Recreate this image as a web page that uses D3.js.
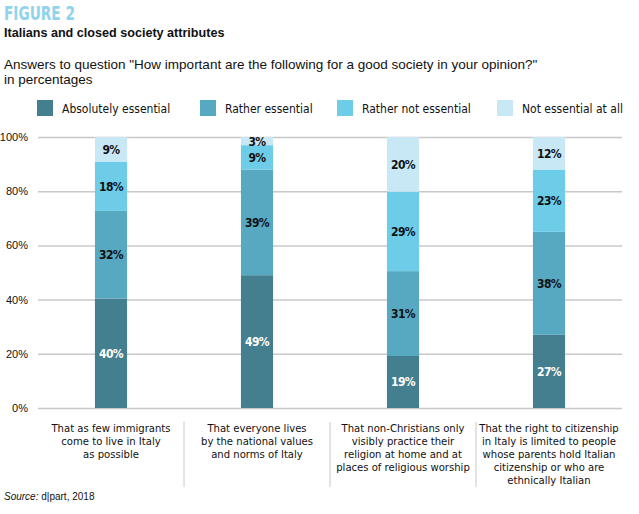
<!DOCTYPE html>
<html><head><meta charset="utf-8">
<script src="https://cdn.jsdelivr.net/npm/d3@7"></script>
<style>
body{margin:0;background:#fff;}
svg{display:block;}
</style></head>
<body>
<svg id="chart" width="639" height="514"></svg>
<script>
const categories = [
  ["That as few immigrants","come to live in Italy","as possible"],
  ["That everyone lives","by the national values","and norms of Italy"],
  ["That non-Christians only","visibly practice their","religion at home and at","places of religious worship"],
  ["That the right to citizenship","in Italy is limited to people","whose parents hold Italian","citizenship or who are","ethnically Italian"]
];
const seriesNames = ["Absolutely essential","Rather essential","Rather not essential","Not essential at all"];
const absolutelyEssential = [40, 49, 19, 27];
const ratherEssential     = [32, 39, 31, 38];
const ratherNotEssential  = [18, 9, 29, 23];
const notEssentialAtAll   = [9, 3, 20, 12];
const yTicks = [0, 0.2, 0.4, 0.6, 0.8, 1.0];
const colors = ["#447f90", "#57a8c1", "#6dcde9", "#c7e8f4"];

const narrow = "'DejaVu Sans Condensed','Liberation Sans Narrow',Arial,sans-serif";
const regular = "'Liberation Sans',Arial,sans-serif";

const svg = d3.select("#chart");

const rows = categories.map((c, i) => ({
  idx: i,
  [seriesNames[0]]: absolutelyEssential[i],
  [seriesNames[1]]: ratherEssential[i],
  [seriesNames[2]]: ratherNotEssential[i],
  [seriesNames[3]]: notEssentialAtAll[i]
}));
const stack = d3.stack().keys(seriesNames).offset(d3.stackOffsetExpand);
const layers = stack(rows);

const x = d3.scaleBand().domain(d3.range(categories.length)).range([38, 622]).paddingInner(0.78).paddingOuter(0.39);
const y = d3.scaleLinear().domain([0, 1]).range([408, 137]);
const color = d3.scaleOrdinal().domain(seriesNames).range(colors);

// Header
svg.append("text").attr("x", 4).attr("y", 20).text("FIGURE 2")
  .attr("font-family", narrow).attr("font-weight", "bold").attr("font-size", 20).attr("fill", "#8fd4ec")
  .attr("textLength", 71).attr("lengthAdjust", "spacingAndGlyphs");
svg.append("text").attr("x", 4).attr("y", 37).text("Italians and closed society attributes")
  .attr("font-family", regular).attr("font-weight", "bold").attr("font-size", 12.6).attr("fill", "#111");
svg.append("text").attr("x", 4).attr("y", 69).text("Answers to question \"How important are the following for a good society in your opinion?\"")
  .attr("font-family", regular).attr("font-size", 13.5).attr("fill", "#111");
svg.append("text").attr("x", 4).attr("y", 84).text("in percentages")
  .attr("font-family", regular).attr("font-size", 13.5).attr("fill", "#111");

// Legend
const legendX = [37, 200, 337, 497];
const lg = svg.append("g").selectAll("g").data(seriesNames).join("g")
  .attr("transform", (d, i) => `translate(${legendX[i]},100)`);
lg.append("rect").attr("width", 16).attr("height", 16).attr("fill", d => color(d));
lg.append("text").attr("x", 25).attr("y", 12.5).text(d => d)
  .attr("font-family", narrow).attr("font-size", 12).attr("fill", "#111");

// Grid + y axis
const yAxis = d3.axisLeft(y).tickValues(yTicks).tickSize(-(622 - 38)).tickFormat(d => Math.round(d * 100) + "%");
const ya = svg.append("g").attr("transform", "translate(38,0)").call(yAxis);
ya.select(".domain").remove();
ya.selectAll(".tick line").attr("stroke", "#c8c8c8").attr("stroke-width", 1.5);
ya.selectAll(".tick text").attr("x", -10).attr("font-family", regular).attr("font-size", 11).attr("fill", "#111");

// Bars
const g = svg.append("g");
layers.forEach((layer, li) => {
  g.append("g").selectAll("rect").data(layer).join("rect")
    .attr("x", (d, i) => x(i)).attr("width", x.bandwidth())
    .attr("y", d => y(d[1])).attr("height", d => y(d[0]) - y(d[1]))
    .attr("fill", colors[li]);
  g.append("g").selectAll("text").data(layer).join("text")
    .attr("x", (d, i) => x(i) + x.bandwidth() / 2)
    .attr("y", d => (y(d[0]) + y(d[1])) / 2 + 4.5)
    .attr("text-anchor", "middle")
    .text(d => d.data[seriesNames[li]] + "%")
    .attr("font-family", narrow).attr("font-weight", "bold").attr("font-size", 12)
    .attr("letter-spacing", -0.6)
    .attr("fill", li === 0 ? "#fff" : "#111");
});

// Category labels + separators
const cat = svg.append("g");
[1, 2, 3].forEach(i => {
  cat.append("line").attr("x1", x.step() * i + 38).attr("x2", x.step() * i + 38)
    .attr("y1", 422).attr("y2", 487).attr("stroke", "#c8c8c8").attr("stroke-width", 1);
});
categories.forEach((lines, i) => {
  const t = cat.append("text").attr("text-anchor", "middle")
    .attr("font-family", narrow).attr("font-size", 11.2).attr("fill", "#111");
  lines.forEach((ln, k) => {
    t.append("tspan").attr("x", x(i) + x.bandwidth() / 2).attr("y", 432 + k * 13).text(ln);
  });
});

// Source
const src = svg.append("text").attr("x", 4).attr("y", 500).attr("font-family", regular).attr("font-size", 10).attr("fill", "#111");
src.append("tspan").attr("font-style", "italic").text("Source: ");
src.append("tspan").text("d|part, 2018");
</script>
</body></html>
